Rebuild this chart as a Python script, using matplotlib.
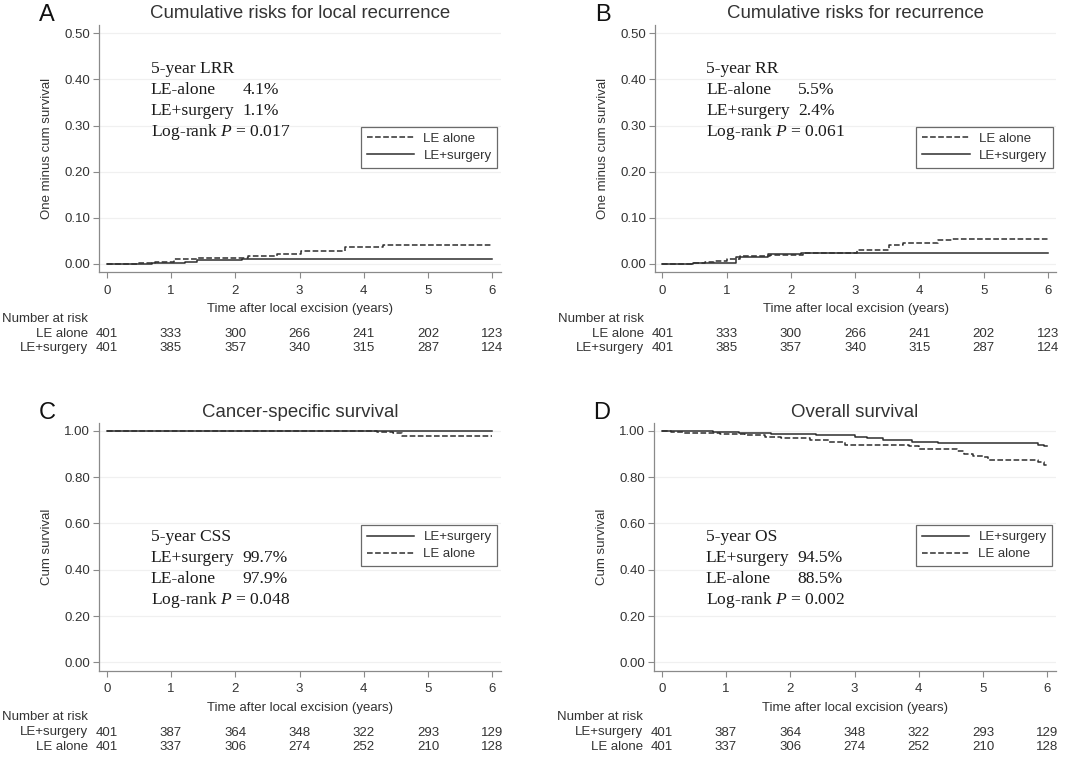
import matplotlib
matplotlib.use("Agg")
import matplotlib.pyplot as plt
from matplotlib.lines import Line2D
from matplotlib.transforms import blended_transform_factory

plt.rcParams['font.family'] = ['Liberation Sans', 'DejaVu Sans']
plt.rcParams['mathtext.fontset'] = 'custom'
plt.rcParams['mathtext.rm'] = 'Liberation Serif'
plt.rcParams['mathtext.it'] = 'Liberation Serif:italic'

# ---------------- data ----------------
years = [0, 1, 2, 3, 4, 5, 6]

# Panel A: cumulative risk of local recurrence (1 - KM)
a_alone_t = [0, 0.47, 0.75, 1.05, 1.4, 2.2, 2.65, 3.03, 3.7, 4.3, 6.0]
a_alone_v = [0, 0.002, 0.005, 0.011, 0.013, 0.017, 0.022, 0.029, 0.037, 0.041, 0.041]
a_surg_t = [0, 0.7, 1.22, 1.4, 2.1, 6.0]
a_surg_v = [0, 0.003, 0.005, 0.008, 0.011, 0.011]

# Panel B: cumulative risk of recurrence
b_alone_t = [0, 0.46, 0.67, 0.8, 1.0, 1.2, 1.67, 2.19, 3.02, 3.52, 3.75, 4.29, 4.5, 6.0]
b_alone_v = [0, 0.002, 0.004, 0.007, 0.010, 0.017, 0.0195, 0.0245, 0.030, 0.041, 0.046, 0.052, 0.055, 0.055]
b_surg_t = [0, 0.48, 1.15, 1.65, 2.15, 6.0]
b_surg_v = [0, 0.003, 0.0145, 0.021, 0.024, 0.024]

# Panel C: cancer-specific survival
c_surg_t = [0, 4.55, 6.0]
c_surg_v = [1.0, 0.997, 0.997]
c_alone_t = [0, 1.73, 4.2, 4.45, 4.6, 6.0]
c_alone_v = [1.0, 0.997, 0.995, 0.990, 0.979, 0.979]

# Panel D: overall survival
d_surg_t = [0, 0.3, 0.8, 1.2, 1.7, 2.4, 3.0, 3.2, 3.45, 3.9, 4.3, 5.85, 5.95, 6.0]
d_surg_v = [1.0, 0.997, 0.993, 0.990, 0.985, 0.980, 0.975, 0.970, 0.962, 0.953, 0.947, 0.940, 0.932, 0.932]
d_alone_t = [0, 0.15, 0.35, 0.9, 1.3, 1.6, 1.85, 2.3, 2.6, 2.85, 3.85, 4.0, 4.6, 4.7, 4.85, 5.0, 5.08, 5.85, 5.95, 6.0]
d_alone_v = [1.0, 0.993, 0.988, 0.985, 0.980, 0.975, 0.967, 0.960, 0.950, 0.940, 0.932, 0.920, 0.912, 0.898, 0.890, 0.885, 0.874, 0.866, 0.852, 0.848]

# numbers at risk
risk_ab_alone = [401, 333, 300, 266, 241, 202, 123]
risk_ab_surg = [401, 385, 357, 340, 315, 287, 124]
risk_cd_surg = [401, 387, 364, 348, 322, 293, 129]
risk_cd_alone = [401, 337, 306, 274, 252, 210, 128]

titles = ["Cumulative risks for local recurrence", "Cumulative risks for recurrence",
          "Cancer-specific survival", "Overall survival"]
letters = ["A", "B", "C", "D"]
ylabels = ["One minus cum survival", "One minus cum survival", "Cum survival", "Cum survival"]
xlabel = "Time after local excision (years)"

yticks_risk = [0.0, 0.1, 0.2, 0.3, 0.4, 0.5]
yticks_surv = [0.0, 0.2, 0.4, 0.6, 0.8, 1.0]

notes = [
    [("5-year LRR", None), ("LE-alone", "4.1%"), ("LE+surgery", "1.1%"), ("Log-rank $P$ = 0.017", None)],
    [("5-year RR", None), ("LE-alone", "5.5%"), ("LE+surgery", "2.4%"), ("Log-rank $P$ = 0.061", None)],
    [("5-year CSS", None), ("LE+surgery", "99.7%"), ("LE-alone", "97.9%"), ("Log-rank $P$ = 0.048", None)],
    [("5-year OS", None), ("LE+surgery", "94.5%"), ("LE-alone", "88.5%"), ("Log-rank $P$ = 0.002", None)],
]

# ---------------- style ----------------
W, H = 1080, 761
fig = plt.figure(figsize=(W / 100, H / 100), dpi=100)
fig.patch.set_facecolor("white")

axw, axh = 401.4, 247.4
positions = [(99.3, 272.3), (655.0, 272.3), (99.3, 670.7), (654.3, 670.7)]

LINE = "#2e2e2e"
AXC = "#8a8a8a"
TXT = "#333333"
FS = 9.5

panels = [
    dict(curves=[(a_alone_t, a_alone_v, "--", "LE alone"), (a_surg_t, a_surg_v, "-", "LE+surgery")],
         ylim=(-0.018, 0.518), yticks=yticks_risk,
         risk=[("LE alone", risk_ab_alone), ("LE+surgery", risk_ab_surg)], note_y=0.822),
    dict(curves=[(b_alone_t, b_alone_v, "--", "LE alone"), (b_surg_t, b_surg_v, "-", "LE+surgery")],
         ylim=(-0.018, 0.518), yticks=yticks_risk,
         risk=[("LE alone", risk_ab_alone), ("LE+surgery", risk_ab_surg)], note_y=0.822),
    dict(curves=[(c_surg_t, c_surg_v, "-", "LE+surgery"), (c_alone_t, c_alone_v, "--", "LE alone")],
         ylim=(-0.036, 1.032), yticks=yticks_surv,
         risk=[("LE+surgery", risk_cd_surg), ("LE alone", risk_cd_alone)], note_y=0.542),
    dict(curves=[(d_surg_t, d_surg_v, "-", "LE+surgery"), (d_alone_t, d_alone_v, "--", "LE alone")],
         ylim=(-0.036, 1.032), yticks=yticks_surv,
         risk=[("LE+surgery", risk_cd_surg), ("LE alone", risk_cd_alone)], note_y=0.542),
]

for i, p in enumerate(panels):
    lx, by = positions[i]
    ax = fig.add_axes([lx / W, 1 - by / H, axw / W, axh / H])
    ax.set_xlim(-0.115, 6.13)
    ax.set_ylim(*p["ylim"])
    for s in ["top", "right"]:
        ax.spines[s].set_visible(False)
    for s in ["left", "bottom"]:
        ax.spines[s].set_color(AXC)
        ax.spines[s].set_linewidth(0.9)
    ax.set_xticks(years)
    ax.set_yticks(p["yticks"])
    ax.set_yticklabels([f"{v:.2f}" for v in p["yticks"]])
    ax.tick_params(axis="both", direction="out", length=4.5, width=0.8, color=AXC,
                   labelsize=FS, labelcolor=TXT)
    ax.tick_params(axis="x", pad=4.5)
    ax.tick_params(axis="y", pad=2)
    ax.grid(axis="y", color="#f0f0f0", linewidth=0.9)
    ax.set_axisbelow(True)

    handles = []
    for t, v, ls, lab in p["curves"]:
        ax.plot(t, v, drawstyle="steps-post", color=LINE, linestyle=ls, linewidth=1.1)
        handles.append(Line2D([], [], color=LINE, linestyle=ls, linewidth=1.1, label=lab))

    leg = ax.legend(handles=handles, loc="upper right", bbox_to_anchor=(0.992, 0.589),
                    borderaxespad=0, fancybox=False, edgecolor="#6a6a6a", framealpha=1,
                    fontsize=FS, handlelength=3.6, handletextpad=0.7, labelspacing=0.38,
                    borderpad=0.45, labelcolor=TXT)
    leg.get_frame().set_linewidth(0.9)

    ax.set_title(titles[i], fontsize=13.4, color=TXT, y=1.045, va="center", pad=0)
    ax.text(-0.13, 1.04, letters[i], transform=ax.transAxes, fontsize=17,
            ha="center", va="center", color="#111111")

    ax.set_ylabel(ylabels[i], fontsize=FS, color=TXT, va="center")
    ax.yaxis.set_label_coords(-0.13, 0.5)
    ax.set_xlabel(xlabel, fontsize=FS, color=TXT, va="center")
    ax.xaxis.set_label_coords(0.5, -0.1496)

    # annotation block
    line_h = 21.1 / axh
    for k, (lab, val) in enumerate(notes[i]):
        yy = p["note_y"] - k * line_h
        ax.text(0.128, yy, lab, transform=ax.transAxes, fontsize=12.6,
                family="Liberation Serif", color="#1a1a1a", va="center", ha="left")
        if val is not None:
            ax.text(0.356, yy, val, transform=ax.transAxes, fontsize=12.6,
                    family="Liberation Serif", color="#1a1a1a", va="center", ha="left")

    # numbers at risk
    tr = blended_transform_factory(ax.transData, ax.transAxes)
    ax.text(-97 / axw, -46.7 / axh, "Number at risk", transform=ax.transAxes,
            fontsize=FS, color=TXT, ha="left", va="center")
    for r, (lab, nums) in enumerate(p["risk"]):
        yy = -(61.8 + r * 14.3) / axh
        ax.text(-0.028, yy, lab, transform=ax.transAxes, fontsize=FS, color=TXT,
                ha="right", va="center")
        for x, n in zip(years, nums):
            ax.text(x, yy, str(n), transform=tr, fontsize=FS, color=TXT,
                    ha="center", va="center", clip_on=False)

fig.savefig("out.png", dpi=100, facecolor="white")
